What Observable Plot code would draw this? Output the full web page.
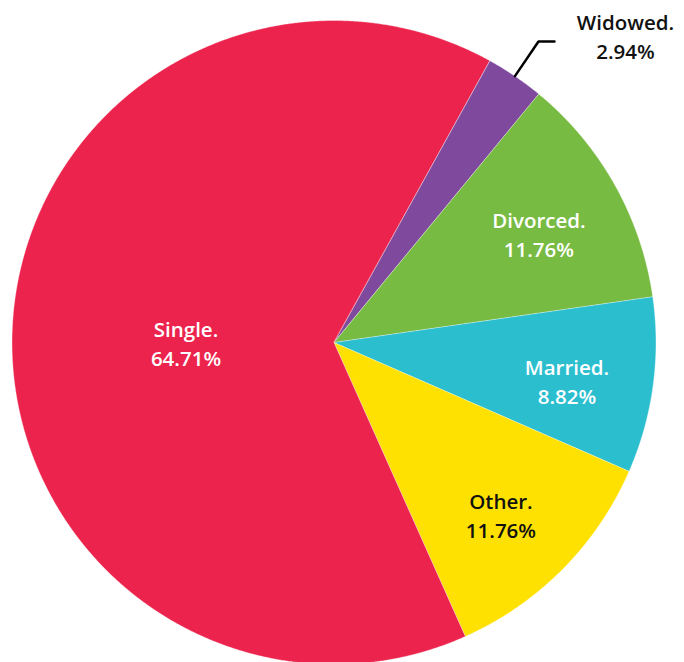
<!DOCTYPE html>
<html>
<head>
<meta charset="utf-8">
<script src="https://cdn.jsdelivr.net/npm/d3@7"></script>
<script src="https://cdn.jsdelivr.net/npm/@observablehq/plot@0.6"></script>
<style>
  html, body { margin: 0; padding: 0; background: #fff; }
</style>
</head>
<body>
<div id="chart"></div>
<script>
// Data (clockwise from the Single/Widowed boundary)
const categories = ["Widowed", "Divorced", "Married", "Other", "Single"];
const values = [2.94, 11.76, 8.82, 11.76, 64.71];
const colors = ["#7F4A9E", "#78BB43", "#2BBECF", "#FEE100", "#EC234C"];
const textColors = ["#111", "#fff", "#fff", "#111", "#fff"];
const outsideLabels = ["Widowed"];

const W = 684, H = 662;
const cx = 333.5, cy = 342, R = 322;
const startDeg = 28.9;

const total = d3.sum(values);
const toRad = d => d * Math.PI / 180;

// slice angles
let acc = startDeg;
const slices = categories.map((name, i) => {
  const a0 = acc;
  const a1 = acc + values[i] / total * 360;
  acc = a1;
  return { name, value: values[i], a0, a1, mid: (a0 + a1) / 2, i };
});

// polygon points for each slice (data units, radius 1)
const pts = [];
for (const s of slices) {
  pts.push({ name: s.name, x: 0, y: 0 });
  const n = Math.max(4, Math.ceil((s.a1 - s.a0) / 0.25));
  for (let k = 0; k <= n; k++) {
    const a = toRad(s.a0 + (s.a1 - s.a0) * k / n);
    pts.push({ name: s.name, x: Math.sin(a), y: Math.cos(a) });
  }
}

// labels
const labels = slices.map(s => {
  const a = toRad(s.mid);
  const outside = outsideLabels.includes(s.name);
  const r = outside ? 1.13 : (s.value > 50 ? 0.46 : 0.73);
  let x = Math.sin(a) * r, y = Math.cos(a) * r - (outside ? 0 : 6 / R);
  if (outside) { x += 87 / R; y += 6 / R; }
  return {
    name: s.name,
    text: `${s.name}.\n${s.value.toFixed(2)}%`,
    x, y,
    color: textColors[s.i]
  };
});

// leader line for outside labels
const leader = [];
for (const s of slices.filter(s => outsideLabels.includes(s.name))) {
  const a = toRad(s.mid);
  const ex = Math.sin(a) * 1.13, ey = Math.cos(a) * 1.13;
  leader.push({ name: s.name, x: Math.sin(a) * 1.0, y: Math.cos(a) * 1.0 });
  leader.push({ name: s.name, x: ex, y: ey });
  leader.push({ name: s.name, x: ex + 16 / R, y: ey });
}

const chart = Plot.plot({
  width: W,
  height: H,
  margin: 0,
  x: { domain: [-cx / R, (W - cx) / R], axis: null },
  y: { domain: [-(H - cy) / R, cy / R], axis: null },
  color: { domain: categories, range: colors },
  style: { fontFamily: "'Open Sans', Lato, sans-serif", background: "#fff" },
  marks: [
    Plot.line(pts, {
      x: "x", y: "y", z: "name",
      fill: "name",
      stroke: "#ffffff", strokeWidth: 0.6, strokeOpacity: 0.6,
      curve: "linear-closed"
    }),
    Plot.line(leader, {
      x: "x", y: "y", z: "name",
      stroke: "#000", strokeWidth: 2.5, curve: "linear"
    }),
    Plot.text(labels, {
      x: "x", y: "y", text: "text",
      fill: d => d.color,
      fontSize: 20.5,
      fontWeight: 600,
      lineHeight: 1.42,
      textAnchor: "middle"
    })
  ]
});

document.getElementById("chart").appendChild(chart);
</script>
</body>
</html>
